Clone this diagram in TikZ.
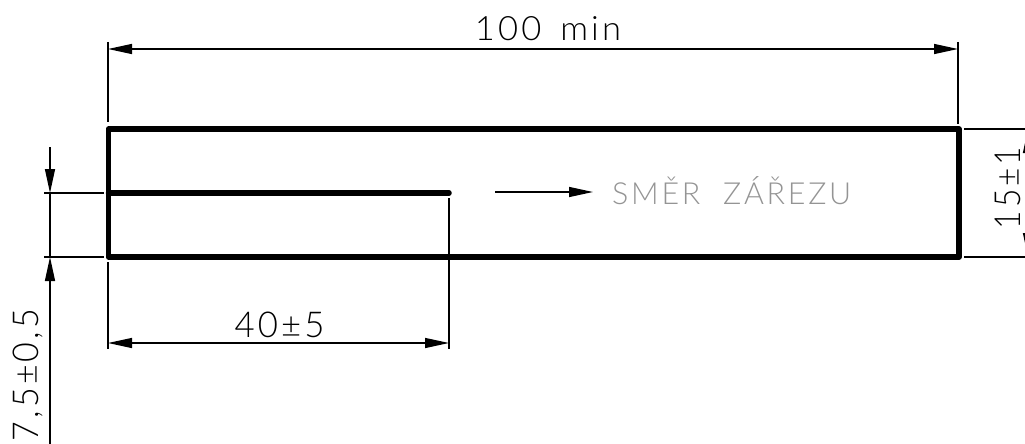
\documentclass[tikz,border=0pt]{standalone}
\usepackage{fontspec}
\setmainfont{Lato}[UprightFont={* Light},LetterSpace=9]
\usetikzlibrary{arrows.meta}
\tikzset{
  x=1pt,y=-1pt,
  thick line/.style={line width=5.5pt,line cap=round,line join=round,black},
  ext line/.style={line width=1.3pt,black},
  dim line/.style={line width=1.3pt,black,{Triangle[length=24pt,width=10pt]}-{Triangle[length=24pt,width=10pt]}},
  lead line/.style={line width=1.3pt,black,-{Triangle[length=24pt,width=10pt]}},
  dim text/.style={inner sep=0pt,text=black},
  note text/.style={inner sep=0pt,text=black!42}
}
\begin{document}
\begin{tikzpicture}
\path[use as bounding box] (0,0) rectangle (1025,444);
\clip (0,0) rectangle (1025,444);
% outline corners
\coordinate (tl) at (108.5,129);
\coordinate (tr) at (959,129);
\coordinate (br) at (959,257);
\coordinate (bl) at (108.5,257);
\coordinate (ml) at (108.5,193);
\coordinate (mr) at (449,193);
\draw[thick line] (tl) -- (tr) -- (br) -- (bl) -- cycle;
\draw[thick line] (ml) -- (mr);
% 100 min
\coordinate (a1) at (108,42);
\coordinate (a2) at (108,122);
\coordinate (b1) at (958,42);
\coordinate (b2) at (958,124);
\coordinate (d1) at (108,49);
\coordinate (d2) at (958,49);
\draw[ext line] (a1) -- (a2);
\draw[ext line] (b1) -- (b2);
\draw[dim line] (d1) -- (d2);
\node[dim text,anchor=base] (t100) at (548,41) {\resizebox{146pt}{24pt}{100\hspace{0.55em}min}};
% 15 +- 1
\coordinate (r1a) at (964,129);
\coordinate (r1b) at (1035,129);
\coordinate (r2a) at (964,257);
\coordinate (r2b) at (1035,257);
\coordinate (r3) at (1028,129);
\coordinate (r4) at (1028,257);
\draw[ext line] (r1a) -- (r1b);
\draw[ext line] (r2a) -- (r2b);
\draw[dim line] (r3) -- (r4);
\node[dim text,rotate=90,anchor=base] (t15) at (1020,188) {\resizebox{82pt}{25.5pt}{15±1}};
% 7,5 +- 0,5
\coordinate (l1a) at (44,193);
\coordinate (l1b) at (104,193);
\coordinate (l2a) at (44,257);
\coordinate (l2b) at (104,257);
\coordinate (v1) at (50,147);
\coordinate (v2) at (50,193);
\coordinate (v3) at (50,257);
\coordinate (v4) at (50,444);
\draw[ext line] (l1a) -- (l1b);
\draw[ext line] (l2a) -- (l2b);
\draw[lead line] (v1) -- (v2);
\draw[ext line] (v2) -- (v3);
\draw[lead line] (v4) -- (v3);
\node[dim text,rotate=90,anchor=base] (t75) at (38.5,375) {\resizebox{132pt}{25.5pt}{7,5±0,5}};
% 40 +- 5
\coordinate (c1) at (108,262);
\coordinate (c2) at (108,349);
\coordinate (e1) at (449,198);
\coordinate (e2) at (449,349);
\coordinate (f1) at (108,343);
\coordinate (f2) at (449,343);
\draw[ext line] (c1) -- (c2);
\draw[ext line] (e1) -- (e2);
\draw[dim line] (f1) -- (f2);
\node[dim text,anchor=base] (t40) at (279.5,337) {\resizebox{90pt}{25.5pt}{40±5}};
% direction
\coordinate (g1) at (495,192);
\coordinate (g2) at (593,192);
\draw[lead line] (g1) -- (g2);
\node[note text,anchor=base west] (tz) at (612,204) {\resizebox{239pt}{!}{SMĚR\hspace{0.75em}ZÁŘEZU}};
\end{tikzpicture}
\end{document}
